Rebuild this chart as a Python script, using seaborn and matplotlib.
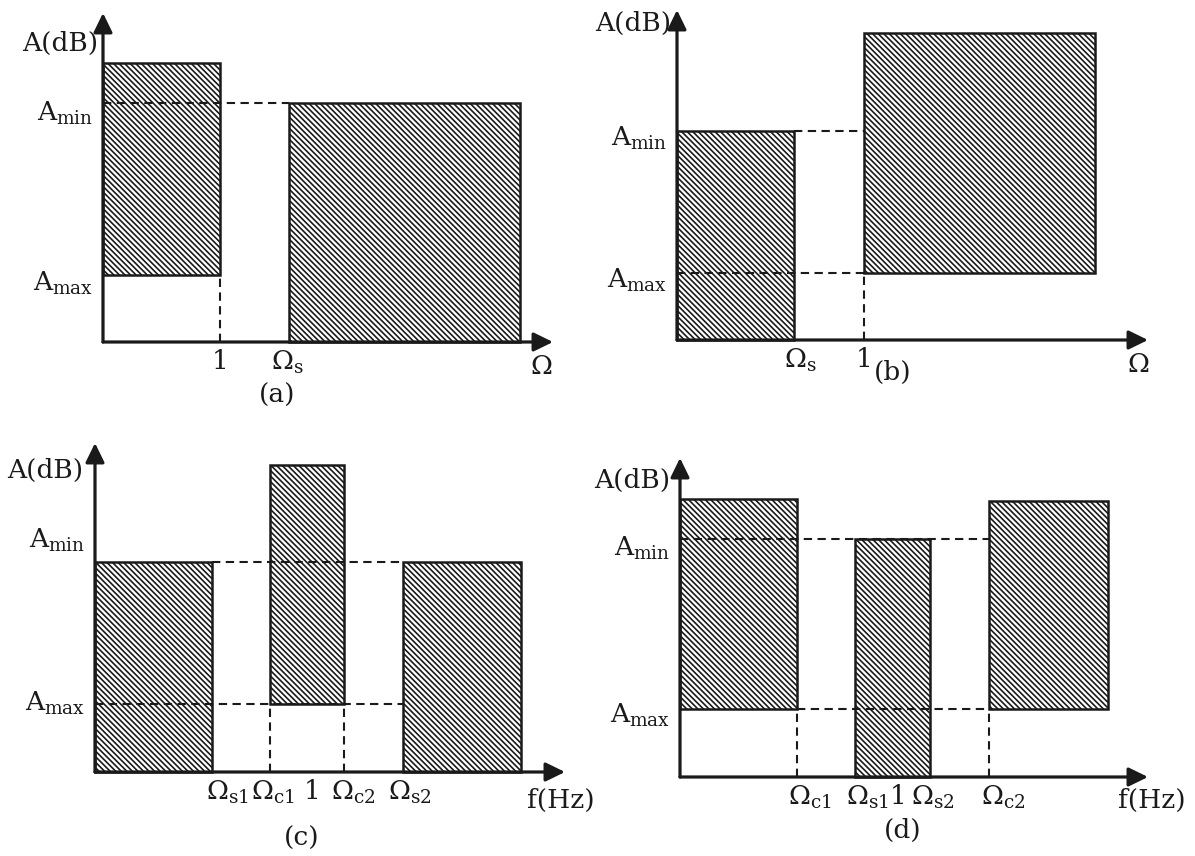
import numpy as np
import matplotlib
matplotlib.use("Agg")
import matplotlib.pyplot as plt
import seaborn as sns

# Filter tolerance schemes: (a) low-pass, (b) high-pass, (c) band-pass, (d) band-stop
# x in normalised frequency (1 = reference edge), y in dB (schematic)

# (a) low-pass
a_left = [0.0, 1.59]
a_right = [1.0, 3.57]
a_bottom = [6.7, 0.0]
a_top = [27.9, 23.9]
a_hdash = [(23.9, 0.0, 1.59)]
a_vdash = [(1.0, 0.0, 6.7)]
a_xticks = [1.0, 1.58]
a_xlabels = ["1", r"$\Omega_{\rm s}$"]
a_yticks = [23.2, 6.2]
a_lim = (3.85, 32.9)

# (b) high-pass
b_left = [0.0, 1.0]
b_right = [0.626, 2.235]
b_bottom = [0.0, 6.7]
b_top = [20.9, 30.7]
b_hdash = [(20.9, 0.626, 1.0), (6.7, 0.0, 1.0)]
b_vdash = [(1.0, 0.0, 6.7)]
b_xticks = [0.658, 1.0]
b_xlabels = [r"$\Omega_{\rm s}$", "1"]
b_yticks = [20.5, 6.3]
b_lim = (2.52, 33.0)

# (c) band-pass
c_left = [0.0, 0.806, 1.419]
c_right = [0.54, 1.147, 1.963]
c_bottom = [0.0, 6.8, 0.0]
c_top = [21.0, 30.7, 21.0]
c_hdash = [(21.0, 0.54, 1.419), (6.8, 0.0, 1.419)]
c_vdash = [(0.806, 0.0, 6.8), (1.147, 0.0, 6.8)]
c_xticks = [0.608, 0.820, 1.0, 1.189, 1.452]
c_xlabels = [r"$\Omega_{\rm s1}$", r"$\Omega_{\rm c1}$", "1",
             r"$\Omega_{\rm c2}$", r"$\Omega_{\rm s2}$"]
c_yticks = [23.5, 7.2]
c_lim = (2.166, 32.9)

# (d) band-stop
d_left = [0.0, 0.803, 1.417]
d_right = [0.537, 1.147, 1.963]
d_bottom = [6.8, 0.0, 6.8]
d_top = [27.8, 23.8, 27.6]
d_hdash = [(23.8, 0.0, 1.417), (6.8, 0.537, 1.417)]
d_vdash = [(0.537, 0.0, 6.8), (1.417, 0.0, 6.8)]
d_xticks = [0.596, 0.858, 1.0, 1.161, 1.482]
d_xlabels = [r"$\Omega_{\rm c1}$", r"$\Omega_{\rm s1}$", "1",
             r"$\Omega_{\rm s2}$", r"$\Omega_{\rm c2}$"]
d_yticks = [23.2, 6.5]
d_lim = (2.147, 31.9)

ylabels = [r"A$_{\rm min}$", r"A$_{\rm max}$"]

sns.set_theme(style="white")
plt.rcParams["font.family"] = ["DejaVu Serif", "DejaVu Sans"]
plt.rcParams["mathtext.fontset"] = "dejavuserif"
plt.rcParams["hatch.linewidth"] = 1.2
plt.rcParams["text.color"] = "k"

W, H = 1195, 856
FS = 19
fig = plt.figure(figsize=(W / 100, H / 100), dpi=100)


def panel(box, lim, left, right, bottom, top, hdash, vdash,
          xticks, xlabels, yticks, xname, xname_pos, yname_pos, tag, tag_pos):
    x0, yax, xtip, ytip = box
    ax = fig.add_axes([x0 / W, 1 - yax / H, (xtip - x0) / W, (yax - ytip) / H])
    ax.set_xlim(0, lim[0])
    ax.set_ylim(0, lim[1])
    sns.despine(ax=ax, left=True, bottom=True)
    ax.patch.set_alpha(0)

    left, right = np.array(left), np.array(right)
    bottom, top = np.array(bottom), np.array(top)
    ax.bar(left, top - bottom, width=right - left, bottom=bottom, align="edge",
           fill=False, hatch="\\" * 6, edgecolor="k", linewidth=1.8,
           clip_on=False, zorder=2)
    for y, xa, xb in hdash:
        ax.plot([xa, xb], [y, y], color="k", lw=1.5, dashes=(4, 2.6),
                clip_on=False, zorder=3)
    for x, ya, yb in vdash:
        ax.plot([x, x], [ya, yb], color="k", lw=1.5, dashes=(4, 2.6),
                clip_on=False, zorder=3)

    arrow = dict(arrowstyle="-|>,head_length=0.45,head_width=0.22",
                 color="k", lw=2.3, shrinkA=0, shrinkB=0, mutation_scale=26)
    ax.annotate("", xy=(lim[0], 0), xytext=(0, 0), arrowprops=arrow,
                annotation_clip=False, zorder=5)
    ax.annotate("", xy=(0, lim[1]), xytext=(0, 0), arrowprops=arrow,
                annotation_clip=False, zorder=5)

    ax.set_xticks(xticks, xlabels)
    ax.set_yticks(yticks, ylabels)
    ax.tick_params(axis="both", length=0, labelsize=FS, labelcolor="k")
    ax.tick_params(axis="x", pad=5)
    ax.tick_params(axis="y", pad=7)

    fig.text(yname_pos[0] / W, 1 - yname_pos[1] / H, "A(dB)", fontsize=FS,
             ha="center", va="center")
    fig.text(xname_pos[0] / W, 1 - xname_pos[1] / H, xname, fontsize=FS,
             ha="center", va="center")
    fig.text(tag_pos[0] / W, 1 - tag_pos[1] / H, tag, fontsize=FS,
             ha="center", va="center")
    return ax


panel((103, 342, 553, 13), a_lim, a_left, a_right, a_bottom, a_top, a_hdash,
      a_vdash, a_xticks, a_xlabels, a_yticks, r"$\Omega$", (541, 366),
      (60, 43), "(a)", (277, 395))
panel((677, 340, 1148, 10), b_lim, b_left, b_right, b_bottom, b_top, b_hdash,
      b_vdash, b_xticks, b_xlabels, b_yticks, r"$\Omega$", (1138, 364),
      (633, 23), "(b)", (893, 372))
panel((95, 772, 565, 443), c_lim, c_left, c_right, c_bottom, c_top, c_hdash,
      c_vdash, c_xticks, c_xlabels, c_yticks, "f(Hz)", (561, 800),
      (45, 470), "(c)", (302, 838))
panel((680, 777, 1148, 458), d_lim, d_left, d_right, d_bottom, d_top, d_hdash,
      d_vdash, d_xticks, d_xlabels, d_yticks, "f(Hz)", (1152, 800),
      (632, 480), "(d)", (903, 830))

fig.savefig("out.png", dpi=100)
